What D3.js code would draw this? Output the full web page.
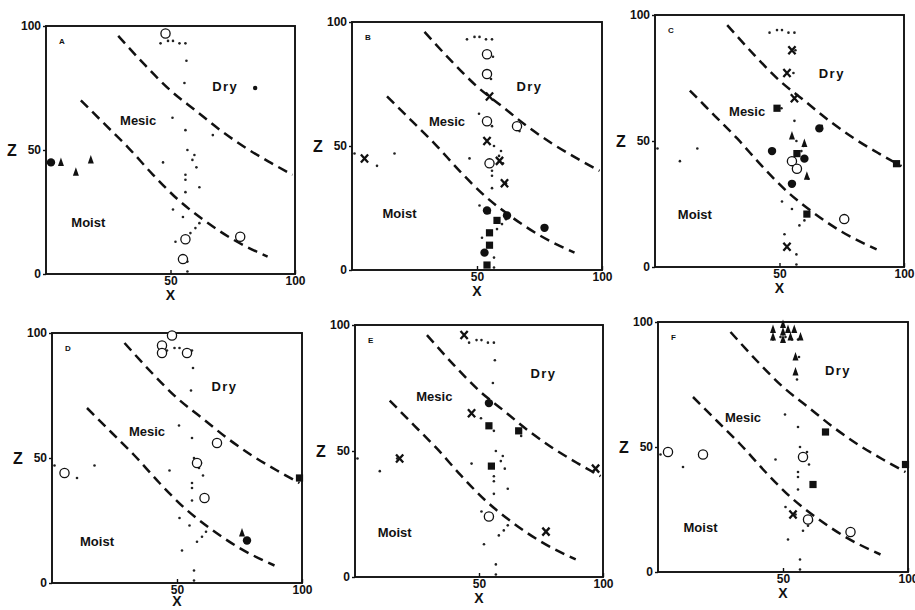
<!DOCTYPE html>
<html>
<head>
<meta charset="utf-8">
<title>Moisture zones</title>
<script src="https://cdn.jsdelivr.net/npm/d3@7/dist/d3.min.js"></script>
<style>
  body { margin: 0; background: #fff; }
  text { font-family: "Liberation Sans", Arial, sans-serif; font-weight: bold; fill: #111; }
  .tick text { font-weight: 700; font-size: 12px; }
</style>
</head>
<body>
<div class="viz-container"></div>
<script>
// Panels (letter) -- marks are [panel, x, z]
var panelNames = ["A", "B", "C", "D", "E", "F"];

var openCircles = [
  ["A", 48, 97], ["A", 56, 14], ["A", 55, 6], ["A", 78, 15],
  ["B", 54, 87], ["B", 54, 79], ["B", 54, 60], ["B", 66, 58], ["B", 55, 43],
  ["C", 55, 42], ["C", 57, 39], ["C", 76, 19],
  ["D", 48, 99], ["D", 44, 95], ["D", 44, 92], ["D", 54, 92], ["D", 66, 56],
  ["D", 58, 48], ["D", 61, 34], ["D", 5, 44],
  ["E", 54, 24],
  ["F", 4, 48], ["F", 18, 47], ["F", 58, 46], ["F", 60, 21], ["F", 77, 16]
];

var filledCircles = [
  ["A", 2, 45],
  ["B", 54, 24], ["B", 62, 22], ["B", 77, 17], ["B", 53, 7],
  ["C", 66, 55], ["C", 47, 46], ["C", 60, 43], ["C", 55, 33],
  ["D", 78, 17],
  ["E", 54, 69]
];

var filledSquares = [
  ["B", 58, 20], ["B", 55, 15], ["B", 55, 10], ["B", 54, 2],
  ["C", 49, 63], ["C", 57, 45], ["C", 97, 41], ["C", 61, 21],
  ["D", 99, 42],
  ["E", 54, 60], ["E", 66, 58], ["E", 55, 44],
  ["F", 67, 56], ["F", 62, 35], ["F", 99, 43]
];

var triangles = [
  ["A", 6, 45], ["A", 12, 41], ["A", 18, 46],
  ["C", 55, 52], ["C", 60, 49], ["C", 61, 36],
  ["D", 76, 20],
  ["F", 46, 97], ["F", 46, 94], ["F", 50, 99], ["F", 50, 96], ["F", 50, 93],
  ["F", 52, 97], ["F", 53, 94], ["F", 54.5, 97], ["F", 57, 94],
  ["F", 55, 86], ["F", 55, 80]
];

var crosses = [
  ["B", 55, 70], ["B", 54, 52], ["B", 59, 44], ["B", 61, 35], ["B", 5, 45],
  ["C", 55, 86], ["C", 53, 77], ["C", 56, 67], ["C", 53, 8],
  ["E", 44, 96], ["E", 47, 65], ["E", 18, 47], ["E", 97, 43], ["E", 77, 18],
  ["F", 54, 23]
];

var smallDots = [["A", 84, 75]];

// faint dotted trace shared by all panels
var traceDots = [
  [46, 93], [49, 94], [51, 94], [53.6, 93], [56, 93], [56.4, 86], [55.6, 77],
  [50.8, 63], [56, 58], [67, 56], [56.8, 50], [59.6, 48], [58.8, 46], [60.4, 43],
  [47, 45], [56, 40], [56, 38], [61.6, 35], [56, 33], [51, 26], [55, 23],
  [61.6, 20.5], [60, 18.5], [58, 16.5], [52, 13], [56.8, 5], [56.8, 1]
];
var leftDots = [[1, 47], [10, 42], [17, 47]];

// zone boundaries
var upperBoundary = [[29, 96], [40, 84], [50, 74], [60, 66], [70, 58], [80, 51], [90, 45], [99, 40]];
var lowerBoundary = [[14, 70], [24, 60], [33, 51], [43, 40], [53, 30], [63, 22], [75, 14], [89, 7]];

var zoneLabels = {
  A: [["Dry", 72, 76], ["Mesic", 37, 62], ["Moist", 17, 21]],
  B: [["Dry", 71, 74], ["Mesic", 38, 60], ["Moist", 19, 23]],
  C: [["Dry", 71, 77], ["Mesic", 37, 62], ["Moist", 16, 21]],
  D: [["Dry", 69, 79], ["Mesic", 38, 61], ["Moist", 18, 17]],
  E: [["Dry", 76, 81], ["Mesic", 32, 72], ["Moist", 16, 18]],
  F: [["Dry", 72, 81], ["Mesic", 34, 62], ["Moist", 17, 18]]
};

var yTicks = [0, 50, 100];
var xTicks = [50, 100];

// frame of each panel on the page
var frames = {
  A: {left: 46, top: 26, w: 249, h: 248},
  B: {left: 352, top: 22, w: 250, h: 248},
  C: {left: 655, top: 15, w: 249, h: 252},
  D: {left: 52, top: 333, w: 250, h: 250},
  E: {left: 355, top: 325, w: 248, h: 252},
  F: {left: 658, top: 322, w: 250, h: 250}
};

var width = 915, height = 610;

var svg = d3.select(".viz-container")
  .append("svg")
  .attr("width", width)
  .attr("height", height);

panelNames.forEach(function(p) {
  var f = frames[p];
  var x = d3.scaleLinear().domain([0, 100]).range([f.left, f.left + f.w]);
  var y = d3.scaleLinear().domain([0, 100]).range([f.top + f.h, f.top]);
  var g = svg.append("g").attr("class", "panel-" + p);

  // frame
  g.append("rect")
    .attr("x", x(0)).attr("y", y(100))
    .attr("width", x(100) - x(0)).attr("height", y(0) - y(100))
    .attr("fill", "none").attr("stroke", "#111").attr("stroke-width", 1.9);

  // axes: y ticks point out, x ticks point in
  var yAxis = g.append("g")
    .attr("transform", "translate(" + x(0) + ",0)")
    .call(d3.axisLeft(y).tickValues(yTicks).tickSize(3).tickPadding(2));
  var xAxis = g.append("g")
    .attr("transform", "translate(0," + y(0) + ")")
    .call(d3.axisBottom(x).tickValues(xTicks).tickSize(-4).tickPadding(2));
  [xAxis, yAxis].forEach(function(a) {
    a.attr("font-family", null).attr("font-size", null);
    a.select(".domain").remove();
    a.selectAll("line").attr("stroke", "#111").attr("stroke-width", 1.4);
    a.selectAll("text").attr("fill", "#111");
  });

  g.append("text")
    .attr("x", x(0) - 34).attr("y", y(50) + 6)
    .attr("text-anchor", "middle").style("font-size", "16px")
    .text("Z");
  g.append("text")
    .attr("x", x(50)).attr("y", Math.min(y(0) + 26, height - 4))
    .attr("text-anchor", "middle").style("font-size", "14px")
    .text("X");

  // panel letter
  g.append("text")
    .attr("x", x(0) + 13).attr("y", y(100) + 18)
    .style("font-size", "8px")
    .text(p);

  // trace dots
  var dots = p === "A" ? traceDots : traceDots.concat(leftDots);
  g.selectAll(".trace").data(dots).enter().append("circle")
    .attr("class", "trace")
    .attr("cx", function(d) { return x(d[0]); })
    .attr("cy", function(d) { return y(d[1]); })
    .attr("r", 1.3).attr("fill", "#222");

  // boundaries
  var line = d3.line()
    .x(function(d) { return x(d[0]); })
    .y(function(d) { return y(d[1]); })
    .curve(d3.curveMonotoneX);
  [upperBoundary, lowerBoundary].forEach(function(b) {
    g.append("path").attr("d", line(b))
      .attr("fill", "none").attr("stroke", "#111")
      .attr("stroke-width", 2.5).attr("stroke-dasharray", "10,6");
  });

  // zone labels
  g.selectAll(".zone").data(zoneLabels[p]).enter().append("text")
    .attr("class", "zone")
    .attr("x", function(d) { return x(d[1]); })
    .attr("y", function(d) { return y(d[2]) + 5; })
    .attr("text-anchor", "middle")
    .style("font-size", "13px")
    .style("letter-spacing", function(d) { return d[0] === "Dry" ? "1.5px" : "0px"; })
    .text(function(d) { return d[0]; });

  function mine(arr) { return arr.filter(function(d) { return d[0] === p; }); }

  g.selectAll(".open").data(mine(openCircles)).enter().append("circle")
    .attr("cx", function(d) { return x(d[1]); })
    .attr("cy", function(d) { return y(d[2]); })
    .attr("r", 4.6).attr("fill", "#fff").attr("stroke", "#111").attr("stroke-width", 1.3);

  g.selectAll(".filled").data(mine(filledCircles)).enter().append("circle")
    .attr("cx", function(d) { return x(d[1]); })
    .attr("cy", function(d) { return y(d[2]); })
    .attr("r", 4.2).attr("fill", "#111");

  g.selectAll(".small").data(mine(smallDots)).enter().append("circle")
    .attr("cx", function(d) { return x(d[1]); })
    .attr("cy", function(d) { return y(d[2]); })
    .attr("r", 2.2).attr("fill", "#111");

  g.selectAll(".square").data(mine(filledSquares)).enter().append("rect")
    .attr("x", function(d) { return x(d[1]) - 3.6; })
    .attr("y", function(d) { return y(d[2]) - 3.6; })
    .attr("width", 7.2).attr("height", 7.2).attr("fill", "#111");

  g.selectAll(".tri").data(mine(triangles)).enter().append("path")
    .attr("transform", function(d) { return "translate(" + x(d[1]) + "," + y(d[2]) + ")"; })
    .attr("d", "M0,-5L3,3.5L-3,3.5Z").attr("fill", "#111");

  g.selectAll(".cross").data(mine(crosses)).enter().append("path")
    .attr("transform", function(d) { return "translate(" + x(d[1]) + "," + y(d[2]) + ")"; })
    .attr("d", "M-3.6,-4L3.6,4M-3.6,4L3.6,-4")
    .attr("stroke", "#111").attr("stroke-width", 2.3).attr("fill", "none");
});
</script>
</body>
</html>
